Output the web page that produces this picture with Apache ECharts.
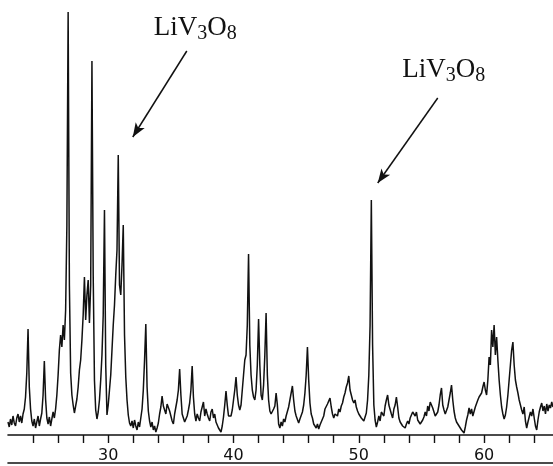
<!DOCTYPE html>
<html>
<head>
<meta charset="utf-8">
<script src="https://cdn.jsdelivr.net/npm/echarts@6/dist/echarts.min.js"></script>
<style>
  html, body { margin: 0; padding: 0; background: #ffffff; }
  #chart { width: 553px; height: 466px; }
</style>
</head>
<body>
<div id="chart"></div>
<script>
// XRD scan: 2-theta from 22.0 deg in 0.1 deg steps; intensities (arb. units)
const START = 22.0;
const STEP = 0.1;
const counts22to30 = [
  13,8,16,10,19,12,9,17,21,13,
  19,12,21,26,38,62,106,48,26,14,
  9,16,7,13,19,9,16,22,40,74,
  36,17,11,18,9,16,23,17,26,40,
  60,85,100,88,110,95,125,210,423,150,
  62,40,30,22,29,36,48,65,75,95,
  120,158,115,140,155,112,150,374,160,55,
  25,16,23,35,55,80,120,225,70,20
];
const counts30to40 = [
  30,45,60,85,110,130,160,185,280,150,
  140,170,210,100,58,35,20,12,9,14,
  7,15,9,5,13,8,17,26,45,75,
  111,48,24,14,8,13,5,9,3,7,
  12,21,28,39,29,30,21,31,33,24,
  19,14,11,21,28,35,45,66,40,21,
  17,13,11,19,25,32,45,69,38,21,
  14,21,17,14,23,28,33,19,26,21,
  17,14,23,26,17,21,13,10,7,5,
  3,9,18,30,44,30,19,17,19,25
];
const counts40to50 = [
  35,45,58,40,30,25,30,45,60,75,
  80,110,181,90,60,45,38,35,45,70,
  116,70,40,35,50,80,122,60,35,24,
  21,19,26,29,42,30,11,7,13,9,
  16,13,19,21,28,35,42,49,35,24,
  19,17,12,16,17,23,30,42,60,88,
  55,32,21,17,11,9,7,11,6,10,
  12,16,19,26,27,31,31,37,28,21,
  17,21,22,19,26,23,29,32,38,42,
  48,52,59,45,40,35,32,35,28,24
];
const counts50to60 = [
  21,19,17,15,14,18,22,35,60,110,
  235,90,30,15,8,13,19,14,23,25,
  19,29,35,40,30,28,21,17,26,30,
  38,28,17,13,11,9,11,7,11,14,
  11,17,18,23,25,19,23,15,13,11,
  9,15,18,23,19,29,24,33,35,27,
  25,19,17,23,30,40,47,30,25,21,
  22,28,35,42,50,35,24,17,13,11,
  9,7,5,4,2,8,15,20,27,21,
  26,19,21,28,30,35,38,36,42,48
];
const counts60to66 = [
  53,45,40,55,78,70,105,88,110,80,
  98,75,55,40,28,21,16,20,28,40,
  55,70,85,93,70,55,48,42,35,30,
  25,21,28,14,7,13,18,23,19,26,
  17,9,5,15,23,28,32,24,29,21,
  31,24,30,27,33,28
];
const tickLabels = [30, 40, 50, 60];
const labelPoints = [[36.94, 407], [56.78, 365]];
const arrows = [
  [[36.27, 384], [31.96, 298]],
  [[56.30, 337], [51.51, 252]]
];

const counts = [].concat(counts22to30, counts30to40, counts40to50, counts50to60, counts60to66);
const scan = counts.map((c, i) => [+(START + i * STEP).toFixed(1), c]);

const chart = echarts.init(document.getElementById('chart'), null, { renderer: 'canvas' });
chart.setOption({
  animation: false,
  backgroundColor: '#ffffff',
  grid: { left: 8, right: 0, top: 0, bottom: 31, containLabel: false },
  xAxis: [
    {
      type: 'value', min: 22, max: 65.5, interval: 2,
      axisLine: { show: true, lineStyle: { color: '#111', width: 1.6 } },
      axisTick: { show: true, length: 8, lineStyle: { color: '#111', width: 1.4 } },
      axisLabel: {
        show: true, margin: 13, color: '#111', fontSize: 16,
        fontFamily: 'DejaVu Sans',
        showMinLabel: false, showMaxLabel: false,
        formatter: v => tickLabels.indexOf(Math.round(v)) >= 0 && Math.abs(v - Math.round(v)) < 1e-6 ? String(Math.round(v)) : ''
      },
      splitLine: { show: false }
    },
    {
      type: 'value', min: 22, max: 65.5, position: 'bottom', offset: 28,
      axisLine: { show: true, lineStyle: { color: '#111', width: 1.6 } },
      axisTick: { show: false }, axisLabel: { show: false }, splitLine: { show: false }
    }
  ],
  yAxis: { type: 'value', min: 0, max: 435, show: false, splitLine: { show: false } },
  series: [{
    type: 'line',
    data: scan,
    showSymbol: false,
    symbol: 'none',
    lineStyle: { color: '#111', width: 1.5 },
    silent: true,
    markLine: {
      silent: true,
      symbol: ['none', 'arrow'],
      symbolSize: [8, 14],
      lineStyle: { color: '#111', width: 1.5, type: 'solid' },
      label: { show: false },
      data: arrows.map(a => [{ coord: a[0] }, { coord: a[1] }])
    },
    markPoint: {
      silent: true,
      symbol: 'circle',
      symbolSize: 0,
      label: {
        show: true, position: 'inside',
        formatter: 'LiV{s|3}O{s|8}',
        color: '#111', fontSize: 27, lineHeight: 32,
        fontFamily: 'Liberation Serif',
        rich: {
          s: { fontSize: 20, lineHeight: 20, verticalAlign: 'bottom', fontFamily: 'Liberation Serif', color: '#111' }
        }
      },
      data: labelPoints.map(p => ({ coord: p }))
    }
  }]
});
</script>
</body>
</html>
